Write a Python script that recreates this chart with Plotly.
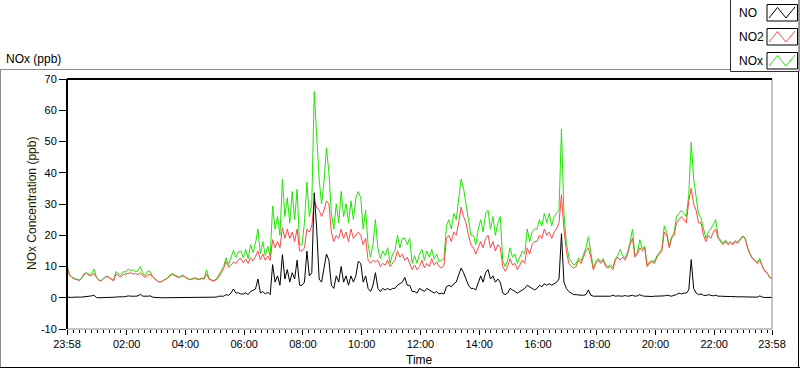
import pandas as pd
import plotly.graph_objects as go

# ---------------- data (5-minute samples from 23:58 to 23:58 next day) ----------------
start_time = "2015-03-01 23:58"
step = "5min"

no2 = [
    10.2, 7.3, 6.5, 6.0, 5.8, 5.5, 6.2, 7.5, 7.8, 7.2, 7.0, 7.8,
    6.6, 5.6, 5.5, 6.3, 6.8, 6.6, 6.0, 5.4, 7.6, 7.0, 6.6, 7.4,
    7.6, 7.8, 8.0, 7.6, 7.8, 7.4, 8.0, 7.0, 6.6, 7.2, 7.6, 6.6,
    5.8, 5.3, 5.0, 5.3, 5.8, 6.2, 7.0, 7.4, 7.0, 6.8, 6.4, 7.0,
    6.8, 6.2, 5.8, 5.9, 6.2, 6.0, 5.8, 6.1, 6.0, 7.6, 6.0, 5.6,
    5.4, 5.8, 6.6, 8.0, 9.4, 11.6, 9.8, 10.4, 11.4, 11.0, 12.2, 12.6,
    11.2, 12.4, 11.0, 12.8, 11.8, 13.2, 15.0, 12.2, 14.0, 12.0, 13.4, 12.0,
    18.6, 16, 18, 16, 22.4, 19, 22, 19, 21, 18, 22, 15,
    15, 16, 22, 21, 23, 31, 29, 28, 26, 28, 31, 30,
    21, 18, 20, 19, 22, 19, 21, 18, 22, 19, 20, 21,
    20, 17, 19, 12, 11, 12, 11.5, 12, 10, 11, 10.5, 12,
    10, 11, 12, 15, 13, 14, 12, 13, 11, 9, 10.5, 9,
    10, 12, 9.5, 11, 10, 12.5, 10.5, 11.5, 10, 9.5, 10.5, 19,
    20, 18, 21, 20, 24, 29, 26, 24, 20, 17, 16, 14,
    16, 18, 16, 19, 20, 16, 18, 15, 17, 16, 10, 8.5,
    10, 12.5, 10.5, 11, 9, 10.5, 12, 11, 16, 14, 17, 18,
    18, 20, 19, 22, 20, 21, 19, 21, 22, 24, 33, 22,
    15, 11, 10, 9.5, 10, 12, 11, 13, 15, 16, 13, 9,
    11, 12, 11, 12, 10, 9.5, 10, 9, 12, 13, 12, 13,
    12, 14, 17, 19, 13, 14, 16, 15, 16, 10, 11, 11.5,
    11, 13, 14, 15, 21, 20, 16, 19, 20, 24, 25, 26,
    25, 24, 31, 35, 30, 28, 24, 24, 20, 18, 20, 19,
    21, 22, 19, 18, 17, 18, 17, 17.5, 17, 18, 17.5, 18.5,
    19.5, 19, 16, 14, 12.5, 12, 11, 12, 10, 8.5, 8, 6.5, 6.3,
]

no = [
    0.2, 0.1, 0.1, 0.2, 0.1, 0.2, 0.2, 0.3, 0.2, 0.3, 0.6, 0.8,
    0.1, 0.0, 0.0, 0.0, 0.1, 0.0, 0.0, 0.1, 0.2, 0.3, 0.2, 0.3,
    0.4, 0.6, 0.5, 0.4, 0.5, 0.6, 1.1, 0.5, 0.4, 0.5, 0.6, 0.2,
    0.1, 0, 0, 0, 0, 0, 0, 0, 0, 0, 0, 0,
    0, 0, 0, 0, 0, 0, 0, 0, 0, 0.1, 0, 0.1,
    0.1, 0.2, 0.5, 0.6, 0.5, 1.0, 0.8, 1.5, 2.8, 1.5, 1.6, 1.2,
    1.2, 1.6, 1.0, 2.0, 2.4, 2.8, 6.0, 1.5, 2.0, 1.2, 1.8, 1.0,
    10.6, 5, 7, 4, 13.8, 6, 9, 5, 8, 6, 12, 4,
    4, 5, 14.9, 7, 8, 33.6, 22, 6, 5, 9, 14, 12,
    4, 3, 7, 5, 10, 5, 7, 4, 7, 5, 7, 11.7,
    11, 5, 7, 3, 2, 4, 8, 3, 2, 3, 2.5, 3,
    2.5, 3, 3, 4, 4.5, 5, 6.5, 4, 4, 2, 2, 1.5,
    3, 2.5, 2, 3, 2.5, 2, 1.5, 2, 1.2, 1.5, 1.2, 3.5,
    4, 3.5, 4.5, 5, 7, 9.5, 8, 6, 4, 3, 3, 2.5,
    5, 7, 5, 8, 9, 6, 7, 5, 6, 5, 1.5, 1,
    1.5, 3, 2.5, 2, 1.5, 2, 2.5, 3, 4, 3.5, 3, 2.5,
    3, 4, 3.5, 4.5, 4, 4.5, 4, 4.5, 5, 6, 20.5, 5,
    3, 2, 1.5, 1, 1, 0.8, 0.8, 0.8, 1, 2.5, 0.8, 0.5,
    0.5, 0.6, 0.5, 0.5, 0.6, 0.5, 0.5, 0.8, 0.5, 0.6, 0.5, 0.5,
    0.7, 0.5, 0.6, 0.8, 0.5, 0.6, 1, 0.6, 0.5, 0.4, 0.5, 0.4,
    0.5, 0.5, 0.6, 0.5, 0.6, 0.8, 0.6, 0.5, 0.8, 1, 1.5, 1.2,
    1.5, 1.5, 2.5, 12.2, 3, 1.5, 1, 1.2, 0.8, 0.7, 1, 0.8,
    0.6, 0.8, 0.5, 0.5, 0.4, 0.5, 0.4, 0.4, 0.3, 0.3, 0.3, 0.3,
    0.3, 0.2, 0.2, 0.2, 0.2, 0.2, 0.2, 0.6, 0.2, 0.1, 0.1, 0.1, 0.1,
]

nox = [
    10.4, 7.4, 6.6, 6.2, 5.9, 5.7, 6.4, 7.8, 8.0, 7.5, 7.6, 9.2,
    6.7, 5.6, 5.5, 6.3, 6.9, 6.6, 6.0, 5.5, 8.4, 7.8, 7.2, 8.4,
    8.2, 9.2, 8.6, 9.0, 8.4, 8.6, 10.0, 7.6, 7.1, 8.6, 8.4, 6.8,
    5.9, 5.3, 5.0, 5.3, 5.9, 6.3, 7.2, 7.8, 7.3, 7.0, 6.6, 7.3,
    6.9, 6.3, 5.9, 6.0, 6.4, 6.2, 5.9, 6.3, 6.2, 8.9, 6.2, 5.7,
    5.5, 6.0, 7.1, 8.6, 10.0, 12.8, 10.6, 12.8, 15.2, 13.0, 14.6, 15.0,
    12.8, 15.5, 12.5, 17.0, 14.5, 17.5, 22.0, 14.0, 18.0, 13.5, 16.5, 13.2,
    29.4, 22, 26, 20, 38, 26, 32, 24, 34, 25, 34.7, 17,
    17, 24, 37, 26, 30, 66, 50, 38, 30, 37, 48, 40,
    27, 22, 30, 24, 34, 26, 30, 24, 31, 25, 32, 34,
    32, 22, 28, 17, 13, 17, 25, 16, 12.5, 15, 13.5, 16,
    11, 14, 15, 20, 16, 19, 19, 17, 19, 11, 13.5, 11,
    14, 15.5, 12, 15, 13, 15.5, 12.5, 14, 11.5, 12, 12.5, 23,
    25, 22, 27, 25, 32, 38, 35, 30, 24, 20, 20, 17,
    22, 25, 21, 27, 28, 22, 26, 20, 24, 26, 12, 10,
    12, 16, 13, 14, 11, 13, 15, 14, 22, 18, 21, 22,
    22, 25, 23, 27, 24, 27, 23, 26, 27, 28, 54, 27,
    17.5, 13, 11.5, 10.5, 11, 12.8, 11.8, 13.8, 16, 19.5, 13.8, 9.5,
    11.5, 12.6, 11.5, 12.5, 10.6, 10, 10.5, 9.8, 12.5, 13.6, 15.5, 13.5,
    12.7, 14.5, 17.6, 22, 13.5, 14.6, 18.6, 15.6, 16.5, 10.4, 11.5, 11.9,
    11.5, 13.5, 14.6, 15.5, 23, 20.8, 16.6, 19.5, 20.8, 26, 27, 28,
    27, 26, 33, 49.7, 38, 32, 26.7, 25.5, 22, 19, 21, 22,
    23.5, 25, 19.5, 18.5, 17.4, 18.5, 17.4, 18, 17.3, 18.3, 17.8, 18.8,
    19.8, 19.2, 16.2, 14.2, 12.7, 12.2, 11.2, 12.6, 10.2, 8.6, 8.1, 6.6, 6.4,
]

x_tick_times = [
    "2015-03-01 23:58", "2015-03-02 02:00", "2015-03-02 04:00", "2015-03-02 06:00",
    "2015-03-02 08:00", "2015-03-02 10:00", "2015-03-02 12:00", "2015-03-02 14:00",
    "2015-03-02 16:00", "2015-03-02 18:00", "2015-03-02 20:00", "2015-03-02 22:00",
    "2015-03-02 23:58",
]
x_tick_text = ["23:58", "02:00", "04:00", "06:00", "08:00", "10:00", "12:00",
               "14:00", "16:00", "18:00", "20:00", "22:00", "23:58"]
y_ticks = [-10, 0, 10, 20, 30, 40, 50, 60, 70]

series_names = ["NO", "NO2", "NOx"]
series_colors = ["#000000", "#ff4646", "#1ee600"]

times = pd.date_range(start_time, periods=len(no), freq=step)

# ---------------- geometry helpers (pixel -> paper) ----------------
W, H = 800, 369
L, R, T, B = 67, 772, 79, 329


def px(x):
    return (x - L) / (R - L)


def py(y):
    return (B - y) / (B - T)


FONT = "Liberation Sans, Arial, sans-serif"

fig = go.Figure()
# draw order: NOx behind, NO2, then NO on top
for vals, name, col in [(nox, "NOx", series_colors[2]),
                        (no2, "NO2", series_colors[1]),
                        (no, "NO", series_colors[0])]:
    fig.add_trace(go.Scatter(x=times, y=vals, mode="lines", name=name,
                             line=dict(color=col, width=1), showlegend=False,
                             hoverinfo="x+y+name"))

shapes = []
# outer frame
shapes.append(dict(type="line", xref="paper", yref="paper", x0=px(0), x1=px(730), y0=py(69.5), y1=py(69.5),
                   line=dict(color="#8c8c8c", width=1)))
shapes.append(dict(type="line", xref="paper", yref="paper", x0=px(0.5), x1=px(0.5), y0=py(69.5), y1=py(368),
                   line=dict(color="#8c8c8c", width=1)))
shapes.append(dict(type="line", xref="paper", yref="paper", x0=px(0), x1=px(800), y0=py(367.5), y1=py(367.5),
                   line=dict(color="#000000", width=1)))
shapes.append(dict(type="line", xref="paper", yref="paper", x0=px(798.5), x1=px(798.5), y0=py(60), y1=py(368),
                   line=dict(color="#000000", width=1)))
# plot area border
shapes.append(dict(type="line", xref="paper", yref="paper", x0=px(R), x1=px(R), y0=0, y1=1,
                   line=dict(color="#8c8c8c", width=1)))
shapes.append(dict(type="line", xref="paper", yref="paper", x0=0, x1=1, y0=0, y1=0,
                   line=dict(color="#8c8c8c", width=1)))
shapes.append(dict(type="line", xref="paper", yref="paper", x0=0, x1=1, y0=1, y1=1,
                   line=dict(color="#000000", width=2)))
shapes.append(dict(type="line", xref="paper", yref="paper", x0=0, x1=0, y0=0, y1=1,
                   line=dict(color="#000000", width=2)))
# legend box
shapes.append(dict(type="rect", xref="paper", yref="paper", x0=px(730.5), x1=px(799), y0=py(71.5), y1=py(-2),
                   line=dict(color="#303030", width=1), fillcolor="white"))

annotations = []
legend_tops = [4.5, 28.5, 52.5]
legend_names = ["NO", "NO2", "NOx"]
for name, col, top in zip(legend_names, series_colors, legend_tops):
    shapes.append(dict(type="rect", xref="paper", yref="paper", x0=px(767), x1=px(797.5),
                       y0=py(top + 16.5), y1=py(top), line=dict(color="#000000", width=1),
                       fillcolor="white"))
    zx = [769, 777.5, 786, 795]
    zy = [top + 13.5, top + 3, top + 13.5, top + 2.5]
    path = "M {} {} ".format(px(zx[0]), py(zy[0])) + " ".join(
        "L {} {}".format(px(a), py(b)) for a, b in zip(zx[1:], zy[1:]))
    shapes.append(dict(type="path", xref="paper", yref="paper", path=path,
                       line=dict(color=col, width=1)))
    annotations.append(dict(xref="paper", yref="paper", x=px(736.5), y=py(top + 8.5),
                            xanchor="left", yanchor="middle", text=name, showarrow=False,
                            font=dict(family=FONT, size=12, color="#000000")))

annotations.append(dict(xref="paper", yref="paper", x=px(4), y=py(59.5), xanchor="left", yanchor="middle",
                        text="NOx (ppb)", showarrow=False,
                        font=dict(family=FONT, size=12, color="#000000")))
annotations.append(dict(xref="paper", yref="paper", x=px(32), y=py(204), xanchor="center", yanchor="middle",
                        text="NOx Concentration (ppb)", textangle=-90, showarrow=False,
                        font=dict(family=FONT, size=12, color="#1a1a00")))
annotations.append(dict(xref="paper", yref="paper", x=px(419.5), y=py(360), xanchor="center", yanchor="middle",
                        text="Time", showarrow=False,
                        font=dict(family=FONT, size=12, color="#000000")))

fig.update_layout(
    width=W, height=H,
    margin=dict(l=L, r=W - R, t=T, b=H - B, pad=0),
    paper_bgcolor="white", plot_bgcolor="white",
    font=dict(family=FONT, size=11, color="#000000"),
    shapes=shapes, annotations=annotations, showlegend=False,
    xaxis=dict(
        type="date",
        range=[x_tick_times[0], x_tick_times[-1]],
        tickmode="array", tickvals=x_tick_times, ticktext=x_tick_text,
        ticks="outside", ticklen=5, tickwidth=1, tickcolor="#000000",
        minor=dict(ticks="outside", ticklen=3, tickcolor="#000000", tickwidth=1,
                   tickmode="linear", tick0="2015-03-02 00:00", dtick=12 * 60 * 1000),
        showgrid=False, zeroline=False, showline=False,
        tickfont=dict(family=FONT, size=11, color="#000000"),
    ),
    yaxis=dict(
        range=[-10, 70],
        tickmode="array", tickvals=y_ticks, ticktext=[str(v) for v in y_ticks],
        ticks="outside", ticklen=7, tickwidth=1, tickcolor="#000000",
        showgrid=False, zeroline=False, showline=False,
        tickfont=dict(family=FONT, size=11, color="#000000"),
    ),
)

fig.write_html(
    "out.html",
    config={"displayModeBar": False},
    post_script="document.body.style.margin='0';document.body.style.overflow='hidden';",
)
